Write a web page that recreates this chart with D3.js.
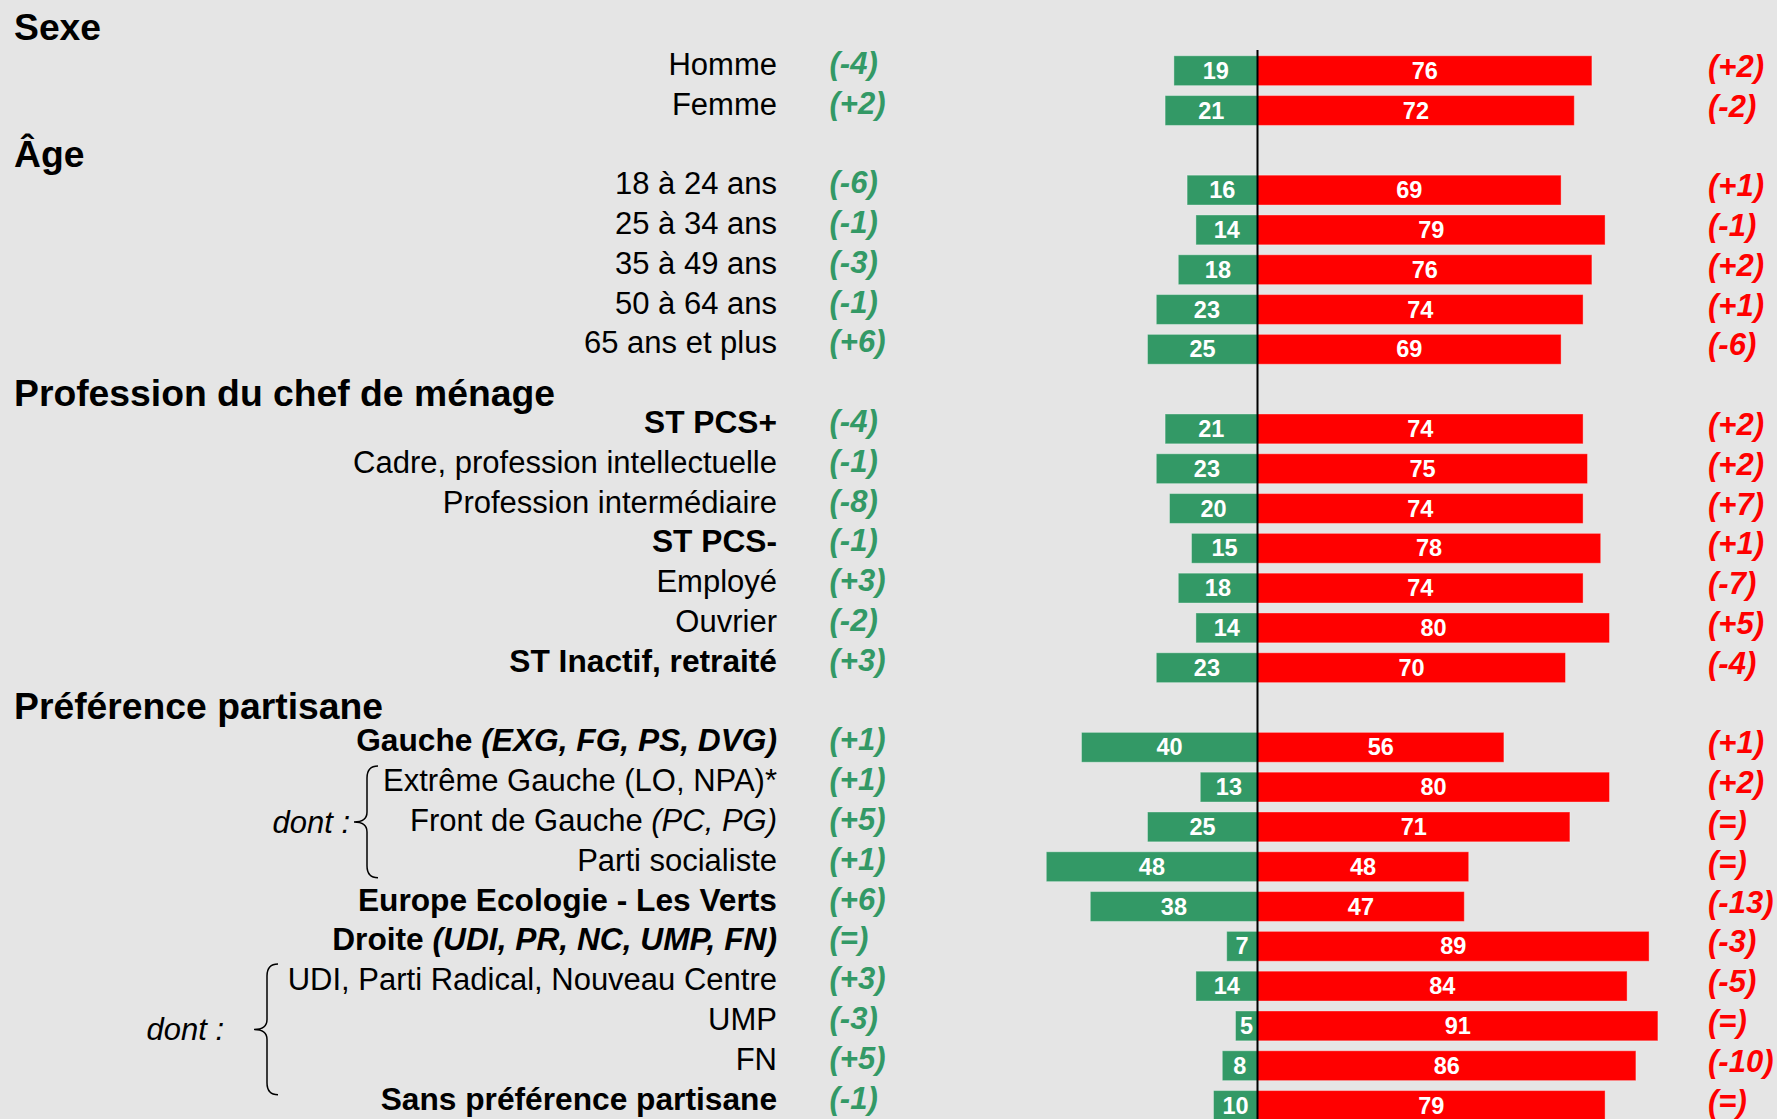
<!DOCTYPE html>
<html>
<head>
<meta charset="utf-8">
<script src="https://cdn.jsdelivr.net/npm/d3@7"></script>
<style>
  html, body { margin: 0; padding: 0; background: #e5e5e5; }
  svg { display: block; }
  text { font-family: "Liberation Sans", Arial, sans-serif; }
</style>
</head>
<body>
<div id="chart"></div>
<script>
// groupes et lignes
const groupNames = ['Sexe', 'Âge', 'Profession du chef de ménage', 'Préférence partisane']
const groupSizes = [2, 5, 7, 10]
const categories = [
  'Homme', 'Femme',
  '18 à 24 ans', '25 à 34 ans', '35 à 49 ans', '50 à 64 ans', '65 ans et plus',
  'ST PCS+', 'Cadre, profession intellectuelle', 'Profession intermédiaire', 'ST PCS-', 'Employé', 'Ouvrier', 'ST Inactif, retraité',
  'Gauche (EXG, FG, PS, DVG)', 'Extrême Gauche (LO, NPA)*', 'Front de Gauche (PC, PG)', 'Parti socialiste',
  'Europe Ecologie - Les Verts', 'Droite (UDI, PR, NC, UMP, FN)', 'UDI, Parti Radical, Nouveau Centre', 'UMP', 'FN',
  'Sans préférence partisane'
]
const boldRows = ['ST PCS+', 'ST PCS-', 'ST Inactif, retraité', 'Gauche (EXG, FG, PS, DVG)',
  'Europe Ecologie - Les Verts', 'Droite (UDI, PR, NC, UMP, FN)', 'Sans préférence partisane']
const italicTail = ['Gauche (EXG, FG, PS, DVG)', 'Front de Gauche (PC, PG)', 'Droite (UDI, PR, NC, UMP, FN)']

const favorable = [19, 21, 16, 14, 18, 23, 25, 21, 23, 20, 15, 18, 14, 23, 40, 13, 25, 48, 38, 7, 14, 5, 8, 10]
const defavorable = [76, 72, 69, 79, 76, 74, 69, 74, 75, 74, 78, 74, 80, 70, 56, 80, 71, 48, 47, 89, 84, 91, 86, 79]
const favDelta = ['(-4)', '(+2)', '(-6)', '(-1)', '(-3)', '(-1)', '(+6)', '(-4)', '(-1)', '(-8)', '(-1)', '(+3)',
  '(-2)', '(+3)', '(+1)', '(+1)', '(+5)', '(+1)', '(+6)', '(=)', '(+3)', '(-3)', '(+5)', '(-1)']
const defDelta = ['(+2)', '(-2)', '(+1)', '(-1)', '(+2)', '(+1)', '(-6)', '(+2)', '(+2)', '(+7)', '(+1)', '(-7)',
  '(+5)', '(-4)', '(+1)', '(+2)', '(=)', '(=)', '(-13)', '(-3)', '(-5)', '(=)', '(-10)', '(=)']

// sous-groupes "dont :"
const dontFirst = ['Extrême Gauche (LO, NPA)*', 'UDI, Parti Radical, Nouveau Centre']
const dontLast = ['Parti socialiste', 'FN']

const W = 1777, H = 1119
const GREEN = '#339966', RED = '#ff0000'

const svg = d3.select('#chart').append('svg').attr('width', W).attr('height', H).style('background', '#e5e5e5')

// ordre des lignes : en-tête de groupe puis ses catégories
const rowKeys = []
let k = 0
groupNames.forEach((g, gi) => {
  rowKeys.push('#' + g)
  for (let i = 0; i < groupSizes[gi]; i++) rowKeys.push(categories[k++])
})

const y = d3.scaleBand().domain(rowKeys).range([11, 11 + rowKeys.length * 39.8]).paddingInner(0.25).paddingOuter(0.125)
const cy = key => y(key) + y.bandwidth() / 2

const xR = d3.scaleLinear().domain([0, 100]).range([1257.5, 1697.5])
const xL = d3.scaleLinear().domain([0, 100]).range([1257.5, 817.5])

const data = categories.map((c, i) => ({
  name: c, fav: favorable[i], def: defavorable[i], fd: favDelta[i], dd: defDelta[i]
}))

// en-têtes
const headerDy = [9.5, 16.5, 16.5, 11]
svg.append('g').selectAll('text').data(groupNames).join('text')
  .attr('x', 14).attr('y', (d, i) => cy('#' + d) + headerDy[i])
  .attr('font-size', 37.3).attr('font-weight', 'bold').attr('fill', '#000')
  .text(d => d)

// libellés des lignes
const labels = svg.append('g').selectAll('text').data(data).join('text')
  .attr('x', 777).attr('y', d => cy(d.name) + 4)
  .attr('text-anchor', 'end').attr('fill', '#000')
  .attr('font-size', d => boldRows.includes(d.name) ? 31.7 : 31)
  .attr('font-weight', d => boldRows.includes(d.name) ? 'bold' : 'normal')
labels.each(function (d) {
  const t = d3.select(this)
  if (italicTail.includes(d.name)) {
    const p = d.name.indexOf('(')
    t.append('tspan').text(d.name.slice(0, p))
    t.append('tspan').attr('font-style', 'italic').text(d.name.slice(p))
  } else {
    t.text(d.name)
  }
})

// barres
const bars = svg.append('g')
bars.selectAll('rect.fav').data(data).join('rect').classed('fav', true)
  .attr('x', d => xL(d.fav)).attr('y', d => y(d.name))
  .attr('width', d => xL(0) - xL(d.fav)).attr('height', y.bandwidth())
  .attr('fill', GREEN).attr('stroke', 'rgba(255,255,255,0.35)').attr('stroke-width', 1)
bars.selectAll('rect.def').data(data).join('rect').classed('def', true)
  .attr('x', xR(0)).attr('y', d => y(d.name))
  .attr('width', d => xR(d.def) - xR(0)).attr('height', y.bandwidth())
  .attr('fill', RED).attr('stroke', 'rgba(255,255,255,0.35)').attr('stroke-width', 1)

// valeurs
const vals = svg.append('g').attr('font-size', 23.5).attr('font-weight', 'bold').attr('fill', '#fff').attr('text-anchor', 'middle')
vals.selectAll('text.fav').data(data).join('text').classed('fav', true)
  .attr('x', d => (xL(d.fav) + xL(0)) / 2).attr('y', d => cy(d.name) + 8).text(d => d.fav)
vals.selectAll('text.def').data(data).join('text').classed('def', true)
  .attr('x', d => (xR(d.def) + xR(0)) / 2).attr('y', d => cy(d.name) + 8).text(d => d.def)

// évolutions
svg.append('g').selectAll('text').data(data).join('text')
  .attr('x', 829.5).attr('y', d => cy(d.name) + 3)
  .attr('font-size', 31).attr('font-weight', 'bold').attr('font-style', 'italic').attr('fill', GREEN)
  .text(d => d.fd)
svg.append('g').selectAll('text').data(data).join('text')
  .attr('x', 1708).attr('y', d => cy(d.name) + 6)
  .attr('font-size', 31).attr('font-weight', 'bold').attr('font-style', 'italic').attr('fill', RED)
  .text(d => d.dd)

// axe zéro
svg.append('line')
  .attr('x1', xR(0)).attr('x2', xR(0)).attr('y1', 50).attr('y2', H)
  .attr('stroke', '#000').attr('stroke-width', 2)

// accolades "dont :"
const braceX = [367, 267]
const braceTextX = [350, 224]
const bracePad = [[21, 11], [22, 29]]
function bracePath (x, top, bottom) {
  const mid = (top + bottom) / 2
  return `M${x + 11},${top} Q${x},${top} ${x},${top + 12} L${x},${mid - 10} Q${x},${mid} ${x - 13},${mid}` +
    ` Q${x},${mid} ${x},${mid + 10} L${x},${bottom - 12} Q${x},${bottom} ${x + 11},${bottom}`
}
dontFirst.forEach((f, i) => {
  const top = cy(f) - bracePad[i][0]
  const bottom = cy(dontLast[i]) + bracePad[i][1]
  svg.append('path').attr('d', bracePath(braceX[i], top, bottom))
    .attr('fill', 'none').attr('stroke', '#000').attr('stroke-width', 1.5)
  svg.append('text').attr('x', braceTextX[i]).attr('y', (top + bottom) / 2 + 11)
    .attr('text-anchor', 'end').attr('font-size', 31).attr('font-style', 'italic').attr('fill', '#000')
    .text('dont :')
})
</script>
</body>
</html>
